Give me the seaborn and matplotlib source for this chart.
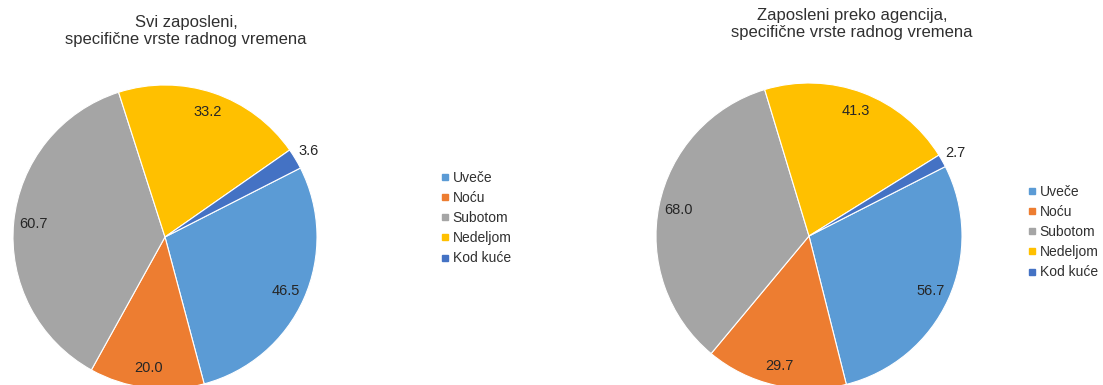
import numpy as np
import matplotlib
matplotlib.use("Agg")
import matplotlib.pyplot as plt
import seaborn as sns
from matplotlib.lines import Line2D

categories = ["Uveče", "Noću", "Subotom", "Nedeljom", "Kod kuće"]
values_all = [46.5, 20.0, 60.7, 33.2, 3.6]
values_agency = [56.7, 29.7, 68.0, 41.3, 2.7]
title_all = "Svi zaposleni,\nspecifične vrste radnog vremena"
title_agency = "Zaposleni preko agencija,\nspecifične vrste radnog vremena"

sns.set_theme(style="white")
plt.rcParams["font.family"] = ["Liberation Sans", "DejaVu Sans"]

colors = sns.color_palette(["#5B9BD5", "#ED7D31", "#A5A5A5", "#FFC000", "#4472C4"])

W, H = 1103, 385
fig = plt.figure(figsize=(W / 100, H / 100), dpi=100)
fig.patch.set_facecolor("white")

PAD = 1.05


def add_pie(cx, cy, r, values, title, tx, ty, legx, legy):
    size = 2 * r * PAD
    ax = fig.add_axes([(cx - size / 2) / W, 1 - (cy + size / 2) / H, size / W, size / H])
    wedges, _ = ax.pie(values, colors=colors, startangle=27, counterclock=False,
                       wedgeprops=dict(edgecolor="white", linewidth=0.8))
    ax.set_xlim(-PAD, PAD)
    ax.set_ylim(-PAD, PAD)
    ax.set_aspect("equal")
    ax.axis("off")
    total = sum(values)
    for w, v in zip(wedges, values):
        ang = np.deg2rad((w.theta1 + w.theta2) / 2)
        d = 1.1 if v / total < 0.05 else 0.87
        ax.text(d * np.cos(ang), d * np.sin(ang), f"{v:.1f}", ha="center", va="center",
                fontsize=10.5, color="#262626")
    fig.text(tx / W, 1 - ty / H, title, ha="center", va="center", fontsize=12,
             color="#303030", linespacing=1.1)
    handles = [Line2D([], [], marker="s", linestyle="none", markersize=4,
                      markerfacecolor=c, markeredgecolor=c) for c in colors]
    fig.legend(handles, categories, loc="center left",
               bbox_to_anchor=((legx - 3.5) / W, 1 - legy / H),
               frameon=False, fontsize=10, handlelength=0.5, handletextpad=0.3,
               labelspacing=0.45, borderaxespad=0, borderpad=0, labelcolor="#303030")


add_pie(165, 237, 152, values_all, title_all, 186, 31, 445, 218)
add_pie(809, 236, 153, values_agency, title_agency, 852, 24, 1032, 232)

fig.savefig("out.png", dpi=100, facecolor="white")
